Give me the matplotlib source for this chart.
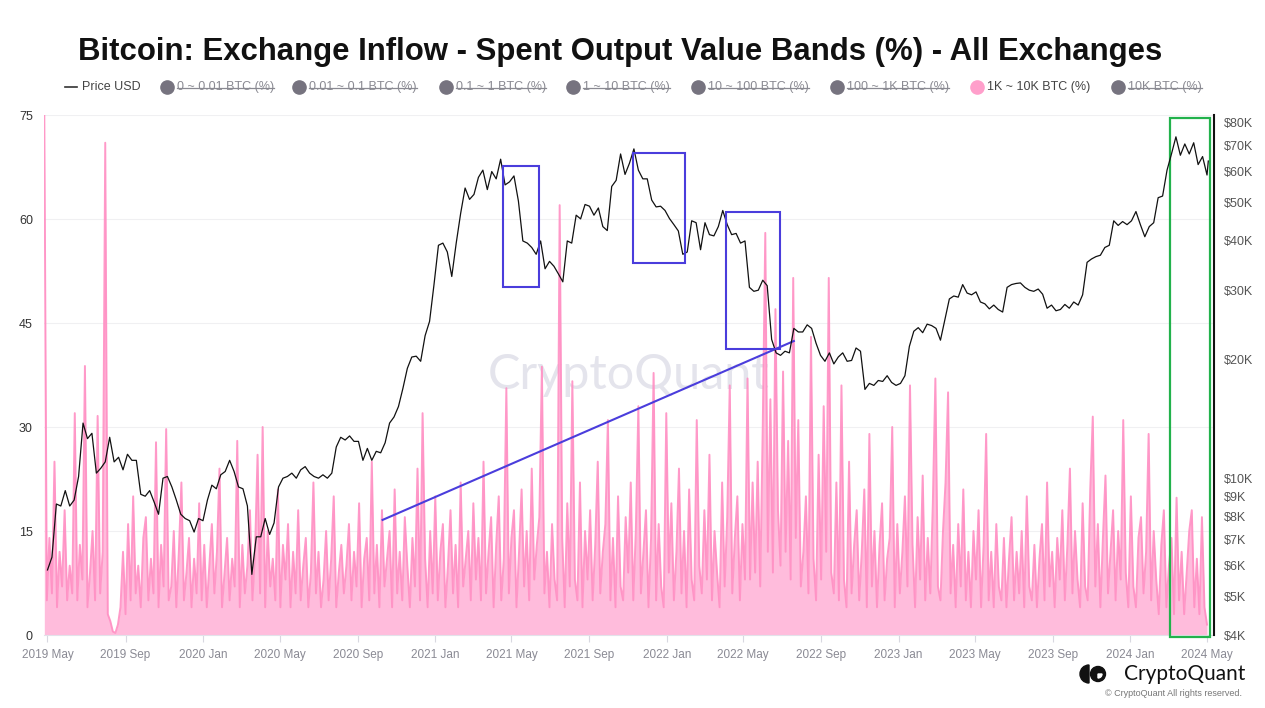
import matplotlib
matplotlib.use('Agg')
import matplotlib.pyplot as plt
import matplotlib.dates as mdates
from matplotlib.lines import Line2D
from matplotlib.patches import Rectangle, Circle, Wedge
from matplotlib.ticker import FixedLocator, FixedFormatter, NullLocator
import pandas as pd

plt.rcParams['font.family'] = ['Liberation Sans', 'DejaVu Sans']

# 1K ~ 10K BTC band share (%), one reading every 4 days from 2019-04-26
band_start = '2019-04-26'
band_2019 = [75, 5, 14, 6, 25, 4, 12, 7, 18, 5,
             10, 6, 32, 5, 13, 8, 38.8, 4, 9, 15,
             5, 31.6, 6, 12, 71, 3, 2, 0.5, 0.3, 1.5,
             4, 12, 3, 16, 5, 20, 6, 10, 4, 14,
             17, 5, 11, 6, 27.8, 4, 13, 7, 29.7, 5,
             7, 15, 4, 12, 22, 5, 9, 14, 4, 11,
             6, 19, 5]
band_2020 = [13, 4, 10, 16, 6, 12, 24,
             4, 9, 14, 5, 11, 7, 28, 4, 13, 6,
             10, 18, 5, 12, 26, 6, 30, 4, 15, 7,
             11, 5, 21, 4, 13, 8, 16, 4, 12, 6,
             18, 5, 10, 14, 4, 9, 22, 6, 12, 4,
             8, 15, 5, 11, 20, 4, 9, 13, 6, 10,
             16, 5, 12, 7, 19, 4, 11, 14, 5, 25,
             6, 13, 4, 18, 7, 11, 15, 4, 21, 6,
             12, 5, 17, 10, 4, 14, 7, 24, 5, 32,
             11, 4, 15, 6, 20]
band_2021 = [5, 12, 16, 4, 10,
             18, 6, 13, 4, 22, 7, 11, 15, 5, 19,
             8, 14, 5, 25, 6, 12, 17, 4, 13, 20,
             5, 11, 35.6, 6, 14, 18, 4, 12, 21, 7,
             15, 5, 24, 8, 13, 17, 38.7, 6, 12, 4,
             16, 8, 5, 62, 14, 4, 19, 7, 36.6, 8,
             5, 22, 4, 15, 8, 18, 5, 13, 25, 6,
             12, 16, 31, 5, 14, 4, 20, 7, 5, 17,
             9, 22, 5, 15, 33, 6, 12, 18, 4, 14,
             37.8, 5, 16, 7, 4]
band_2022 = [32, 9, 19, 5, 12,
             24, 6, 15, 4, 21, 8, 5, 31, 10, 6,
             18, 8, 26, 5, 15, 9, 4, 22, 7, 17,
             36, 6, 14, 20, 5, 16, 8, 37, 8, 22,
             9, 25, 7, 30, 58, 12, 34, 9, 47, 18,
             10, 38, 12, 28, 8, 51.5, 14, 31, 7, 12,
             20, 6, 43, 11, 5, 26, 8, 33, 12, 51.5,
             9, 6, 22, 5, 36, 8, 4, 25, 6, 13,
             18, 5, 12, 21, 4, 29, 7, 15, 4, 13,
             19, 5, 11, 14, 30, 4]
band_2023 = [16, 6, 12, 20,
             7, 36, 13, 4, 17, 8, 23, 5, 14, 6,
             19, 37, 7, 5, 15, 22, 35, 6, 13, 4,
             16, 7, 21, 5, 12, 4, 15, 8, 18, 4,
             13, 29, 5, 12, 4, 16, 7, 5, 14, 4,
             11, 17, 5, 12, 6, 15, 4, 20, 7, 5,
             13, 4, 11, 16, 5, 22, 7, 12, 4, 14,
             8, 18, 5, 13, 24, 6, 15, 8, 4, 19,
             7, 5, 21, 31.5, 7, 16, 4, 14, 23, 6,
             12, 18, 5, 15, 8, 31, 9]
band_2024 = [4, 20, 7,
             4, 14, 17, 6, 12, 29, 5, 15, 8, 3,
             13, 18, 4, 10, 14, 3, 19.8, 5, 12, 3,
             9, 15, 18, 4, 11, 3, 17, 4, 1.5]

# BTC price (USD), weekly readings from 2019-05-01
price_start = '2019-05-01'
price_2019 = [5850, 6300, 8600, 8500, 9300, 8500, 8800, 10100, 13800,
              12600, 13000, 10300, 10600, 11000, 12700, 11000, 11300, 10500,
              11500, 11100, 11100, 9100, 9000, 9300, 8700, 8100, 10000,
              10100, 9500, 8800, 8100, 7900, 7800, 7300, 7900]
price_2020 = [7800, 8800, 9600, 9400, 10200, 10400, 11100, 10400, 9500,
              9400, 8500, 5700, 7100, 7100, 7900, 7200, 7700, 9500,
              10000, 10100, 10300, 10000, 10500, 10700, 10300, 10100,
              10000, 10200, 10000, 10300, 12000, 12700, 12500, 12800, 12400,
              12400, 11100, 11900, 11100, 11700, 11600, 12300, 13800, 14300,
              15200, 16900, 19000, 20300, 20400, 19800, 23000, 25000, 31000]
price_2021 = [39000, 39500, 37500, 32500, 39500, 47000, 54500, 51000,
              52500, 58000, 60500, 54000, 60000, 57500, 64500, 55500, 56500,
              58500, 50500, 40000, 39500, 38500, 37000, 40000, 34000, 35500,
              34500, 33000, 31500, 40000, 39500, 46500, 45500, 49500,
              49000, 46500, 48500, 43500, 42500, 55000, 57000, 66500, 59000,
              63000, 68500, 60500, 57500, 57500, 50800, 48800, 49000, 47800]
price_2022 = [45600, 44000, 42400, 37000, 37500, 45000, 44500, 38000,
              44500, 41500, 41200, 43500, 47800, 44000, 41500, 41800, 39500,
              40000, 30500, 29800, 30000, 31800, 30800, 22500, 20800, 20500,
              21000, 20800, 24000, 23500, 23500, 24500, 24000, 22000, 20500,
              19800, 20800, 19500, 20300, 20800, 19800, 19900, 21400,
              21000, 16800, 17400, 17200, 17700, 17600, 18200, 17500, 17200]
price_2023 = [17400, 18200, 21600, 23600, 24100, 23400, 24600, 24400,
              24000, 22400, 25300, 28500, 29000, 28800, 31000, 29500, 29200,
              29700, 28000, 27700, 26900, 27500, 26800, 26400, 30500, 31000,
              31200, 31300, 30500, 30000, 29800, 30200, 29300, 27000, 27500,
              26600, 26800, 27600, 27000, 28000, 27500, 29200, 35300,
              36000, 36500, 36800, 38500, 39000, 45000, 43800, 44800, 44000]
price_2024 = [45000, 47500, 44000, 41000, 43500, 44500, 51500, 52000, 60500,
              66500, 73500, 66000, 70500, 66500, 71000, 62500, 65500, 58800]
price_last_date = '2024-05-03'
price_last = 63800

# x-axis ticks
tick_dates = pd.date_range('2019-05-01', '2024-05-01', freq='4MS')
left_ticks = [0, 15, 30, 45, 60, 75]
right_ticks = [4000, 5000, 6000, 7000, 8000, 9000, 10000, 20000, 30000,
               40000, 50000, 60000, 70000, 80000]
right_labels = ['$4K', '$5K', '$6K', '$7K', '$8K', '$9K', '$10K', '$20K',
                '$30K', '$40K', '$50K', '$60K', '$70K', '$80K']

legend_labels = ['0 ~ 0.01 BTC (%)', '0.01 ~ 0.1 BTC (%)', '0.1 ~ 1 BTC (%)',
                 '1 ~ 10 BTC (%)', '10 ~ 100 BTC (%)', '100 ~ 1K BTC (%)',
                 '1K ~ 10K BTC (%)', '10K BTC (%)']
legend_active = [False, False, False, False, False, False, True, False]

# hand-drawn annotations (dates, values)
trend_line = (('2020-10-10', 16.6), ('2022-07-20', 42.4))
price_boxes = [('2021-04-17', '2021-06-13', 30500, 62000),
               ('2021-11-09', '2022-01-29', 35200, 66900),
               ('2022-04-04', '2022-06-28', 21300, 47400)]
green_box = ('2024-03-04', '2024-05-06', -0.3, 74.5)

band_values = band_2019 + band_2020 + band_2021 + band_2022 + band_2023 + band_2024
band_dates = pd.date_range(band_start, periods=len(band_values), freq='4D')
price_values = price_2019 + price_2020 + price_2021 + price_2022 + price_2023 + price_2024
price_dates = list(pd.date_range(price_start, periods=len(price_values), freq='7D'))
price_dates.append(pd.Timestamp(price_last_date))
price_values = price_values + [price_last]

pink_line = '#ff8fc3'
pink_fill = '#ffbcdc'
blue = '#4a3ddc'

fig = plt.figure(figsize=(12.65, 7.08), dpi=100)
ax = fig.add_axes([44 / 1265, 1 - 635 / 708, (1214 - 44) / 1265, (635 - 115) / 708])
ax2 = ax.twinx()

ax.fill_between(band_dates, band_values, 0, color=pink_fill, lw=0, zorder=2)
ax.plot(band_dates, band_values, color=pink_line, lw=1.4, alpha=0.9, zorder=3)

ax.text(0.5, 0.5, 'CryptoQuant', transform=ax.transAxes, ha='center', va='center',
        fontsize=35, color='#e4e4ec', family=['Lato', 'DejaVu Sans'], zorder=1)

ax.set_xlim(pd.Timestamp('2019-04-25 12:00'), pd.Timestamp('2024-05-12'))
ax.set_ylim(0, 75)
ax.set_yticks(left_ticks)
ax.grid(axis='y', color='#f0f0f2', lw=0.8)
ax.set_axisbelow(True)
ax.xaxis.set_major_locator(FixedLocator(mdates.date2num(tick_dates)))
ax.xaxis.set_major_formatter(mdates.DateFormatter('%Y %b'))
ax.tick_params(axis='x', length=5, color='#d8d8e0', labelsize=8.5, labelcolor='#8a8a94', pad=5)
ax.tick_params(axis='y', length=0, labelsize=9, labelcolor='#333333', pad=8)
for side in ['top', 'left', 'right']:
    ax.spines[side].set_visible(False)
ax.spines['bottom'].set_color('#e2e2ea')

(x0, y0), (x1, y1) = trend_line
ax.plot([pd.Timestamp(x0), pd.Timestamp(x1)], [y0, y1], color=blue, lw=1.5, zorder=6)

gx0, gx1, gy0, gy1 = green_box
gd0 = mdates.date2num(pd.Timestamp(gx0))
gd1 = mdates.date2num(pd.Timestamp(gx1))
ax.add_patch(Rectangle((gd0, gy0), gd1 - gd0, gy1 - gy0, fill=False,
                       ec='#22b24c', lw=1.6, clip_on=False, zorder=6))

ax2.plot(price_dates, price_values, color='#111111', lw=0.9, zorder=5)
ax2.set_yscale('log')
ax2.set_ylim(4000, 83500)
ax2.yaxis.set_major_locator(FixedLocator(right_ticks))
ax2.yaxis.set_major_formatter(FixedFormatter(right_labels))
ax2.yaxis.set_minor_locator(NullLocator())
ax2.tick_params(axis='y', length=0, labelsize=9, labelcolor='#555555', pad=7)
for side in ['top', 'left', 'bottom']:
    ax2.spines[side].set_visible(False)
ax2.spines['right'].set_color('#111111')
ax2.spines['right'].set_linewidth(1.5)

for bx0, bx1, by0, by1 in price_boxes:
    d0 = mdates.date2num(pd.Timestamp(bx0))
    d1 = mdates.date2num(pd.Timestamp(bx1))
    ax2.add_patch(Rectangle((d0, by0), d1 - d0, by1 - by0, fill=False,
                            ec=blue, lw=1.5, zorder=6))

fig.text(620 / 1265, 1 - 52 / 708,
         'Bitcoin: Exchange Inflow - Spent Output Value Bands (%) - All Exchanges',
         ha='center', va='center', fontsize=22.4, fontweight='bold', color='#111111')

# legend row
ly = 1 - 87 / 708
fig.add_artist(Line2D([65 / 1265, 77 / 1265], [ly, ly], color='#333333', lw=1.2))
fig.text(82 / 1265, ly, 'Price USD', ha='left', va='center', fontsize=9, color='#444444')
dot_x = [167, 299, 446, 573, 698, 837, 977, 1118]
struck = []
for x, lab, on in zip(dot_x, legend_labels, legend_active):
    fig.add_artist(Line2D([x / 1265], [ly], marker='o', ms=9.5, lw=0,
                          color='#ff9fcb' if on else '#76737f'))
    t = fig.text((x + 10) / 1265, ly, lab, ha='left', va='center', fontsize=9,
                 color='#444444' if on else '#8a8a92')
    if not on:
        struck.append(t)

fig.canvas.draw()
inv = fig.transFigure.inverted()
for t in struck:
    bb = t.get_window_extent().transformed(inv)
    ym = bb.y0 + bb.height * 0.45
    fig.add_artist(Line2D([bb.x0, bb.x1], [ym, ym], color='#8a8a92', lw=0.9))

# CryptoQuant logo, bottom right
H = 708
fig.add_artist(Wedge((1089, H - 674), 9, 90, 270, color='#111111', transform=None))
fig.add_artist(Circle((1098, H - 674), 7.5, color='#111111', transform=None))
fig.add_artist(Wedge((1098, H - 674), 4, 270, 360, color='white', transform=None))
fig.text(1185 / 1265, 1 - 674 / 708, 'CryptoQuant', ha='center', va='center',
         fontsize=15, color='#111111', family=['Lato', 'DejaVu Sans'])
fig.text(1242 / 1265, 1 - 693 / 708, '\u00a9 CryptoQuant All rights reserved.',
         ha='right', va='center', fontsize=6.5, color='#777777')

fig.savefig('out.png', dpi=100)
